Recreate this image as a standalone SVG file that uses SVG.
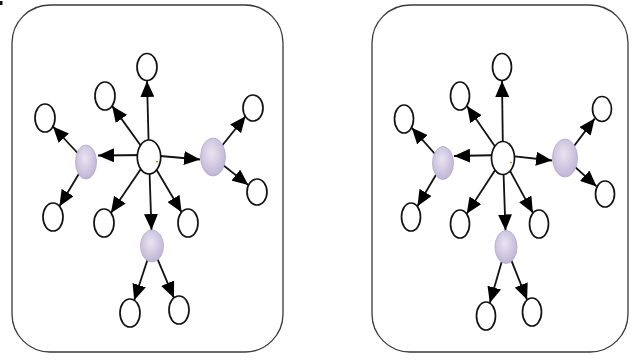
<svg xmlns="http://www.w3.org/2000/svg" width="632" height="363" viewBox="0 0 632 363">
<style>
.box{fill:#fff;stroke:#3a3a3a;stroke-width:1.3}
.n{fill:#fff;stroke:#111;stroke-width:1.7}
.p{fill:url(#pg);stroke:#b3a9ca;stroke-width:0.8}
.e{stroke:#111;stroke-width:1.8;fill:none;marker-end:url(#ah)}
</style>
<defs>
<radialGradient id="pg" cx="0.45" cy="0.4" r="0.6">
<stop offset="0" stop-color="#e9e5f1"/>
<stop offset="1" stop-color="#bfb5d6"/>
</radialGradient>
<marker id="ah" markerUnits="userSpaceOnUse" markerWidth="16" markerHeight="14" refX="16" refY="7" orient="auto">
<path d="M0,0 L16,7 L0,14 z" fill="#000"/>
</marker>
</defs>
<rect width="632" height="363" fill="#fff"/>
<rect x="0" y="1" width="2.5" height="4" fill="#111"/>
<g id="panel-left-box"><rect class="box" x="12" y="5" width="271" height="347" rx="38" ry="38"/></g>
<g id="panel-right-box"><rect class="box" x="372" y="5" width="256" height="347" rx="38" ry="38"/></g>

<g id="connectors">
<line class="e" x1="149" y1="157" x2="147" y2="81"/>
<line class="e" x1="149" y1="157" x2="112.1" y2="105.9"/>
<line class="e" x1="149" y1="155" x2="98" y2="155.5"/>
<line class="e" x1="86" y1="162" x2="52.9" y2="126.5"/>
<line class="e" x1="86" y1="162" x2="59.4" y2="206.3"/>
<line class="e" x1="149" y1="157" x2="110.9" y2="212.9"/>
<line class="e" x1="149" y1="157" x2="151.5" y2="230"/>
<line class="e" x1="149" y1="157" x2="181.6" y2="212.2"/>
<line class="e" x1="149" y1="155" x2="200" y2="159.5"/>
<line class="e" x1="213" y1="157" x2="245.6" y2="116.3"/>
<line class="e" x1="213" y1="157" x2="248.3" y2="185.1"/>
<line class="e" x1="152" y1="246" x2="134.2" y2="300.3"/>
<line class="e" x1="152" y1="246" x2="173.9" y2="297.9"/>

<line class="e" x1="503" y1="158" x2="502" y2="81"/>
<line class="e" x1="503" y1="158" x2="467" y2="106"/>
<line class="e" x1="503" y1="155" x2="454" y2="156"/>
<line class="e" x1="443" y1="163" x2="411.8" y2="127.8"/>
<line class="e" x1="443" y1="163" x2="417.4" y2="206.2"/>
<line class="e" x1="503" y1="158" x2="466.7" y2="213.7"/>
<line class="e" x1="503" y1="158" x2="505.5" y2="230.5"/>
<line class="e" x1="503" y1="158" x2="532.9" y2="212.9"/>
<line class="e" x1="503" y1="155" x2="552" y2="160.5"/>
<line class="e" x1="565" y1="158" x2="594.7" y2="118.6"/>
<line class="e" x1="565" y1="158" x2="596.6" y2="186.4"/>
<line class="e" x1="506" y1="247" x2="489.8" y2="303"/>
<line class="e" x1="506" y1="247" x2="527.1" y2="299.8"/>
</g>

<g id="L-center"><ellipse class="n" cx="149" cy="157" rx="11.7" ry="17"/><rect x="156" y="161" width="2" height="1.2" fill="#d08020"/></g>
<g id="L-top"><ellipse class="n" cx="147" cy="67" rx="10" ry="13.5"/></g>
<g id="L-upleft"><ellipse class="n" cx="105" cy="96" rx="10" ry="14"/></g>
<g id="L-farleft"><ellipse class="n" cx="45" cy="118" rx="10" ry="14"/></g>
<g id="L-leftpurple"><ellipse class="p" cx="86" cy="162" rx="10.5" ry="17"/></g>
<g id="L-lowleft"><ellipse class="n" cx="53" cy="217" rx="10" ry="14"/></g>
<g id="L-lowcl"><ellipse class="n" cx="104" cy="223" rx="10" ry="14"/></g>
<g id="L-lowcr"><ellipse class="n" cx="188" cy="223" rx="10" ry="14"/></g>
<g id="L-botpurple"><ellipse class="p" cx="152" cy="246" rx="11.5" ry="16"/></g>
<g id="L-botleft"><ellipse class="n" cx="130" cy="313" rx="10" ry="14"/></g>
<g id="L-botright"><ellipse class="n" cx="179" cy="310" rx="10" ry="14"/></g>
<g id="L-rightpurple"><ellipse class="p" cx="213" cy="157" rx="12.5" ry="19"/></g>
<g id="L-upright"><ellipse class="n" cx="253" cy="108" rx="10" ry="13"/></g>
<g id="L-lowright"><ellipse class="n" cx="257" cy="192" rx="10" ry="13"/></g>

<g id="R-center"><ellipse class="n" cx="503" cy="158" rx="11.5" ry="16.5"/><rect x="510" y="162" width="2" height="1.2" fill="#d08020"/></g>
<g id="R-top"><ellipse class="n" cx="502" cy="67" rx="9.5" ry="13.5"/></g>
<g id="R-upleft"><ellipse class="n" cx="460" cy="96" rx="9.5" ry="14"/></g>
<g id="R-farleft"><ellipse class="n" cx="404" cy="119" rx="9.5" ry="14"/></g>
<g id="R-leftpurple"><ellipse class="p" cx="443" cy="163" rx="10.5" ry="16.5"/></g>
<g id="R-lowleft"><ellipse class="n" cx="411" cy="217" rx="9.5" ry="14"/></g>
<g id="R-lowcl"><ellipse class="n" cx="460" cy="224" rx="9.5" ry="14"/></g>
<g id="R-lowcr"><ellipse class="n" cx="539" cy="224" rx="9.5" ry="14"/></g>
<g id="R-botpurple"><ellipse class="p" cx="506" cy="247" rx="11" ry="16.5"/></g>
<g id="R-botleft"><ellipse class="n" cx="486" cy="316" rx="9.5" ry="14"/></g>
<g id="R-botright"><ellipse class="n" cx="532" cy="312" rx="9.5" ry="14"/></g>
<g id="R-rightpurple"><ellipse class="p" cx="565" cy="158" rx="12.5" ry="19"/></g>
<g id="R-upright"><ellipse class="n" cx="602" cy="109" rx="9.5" ry="12.5"/></g>
<g id="R-lowright"><ellipse class="n" cx="605" cy="194" rx="9.5" ry="13"/></g>
</svg>
